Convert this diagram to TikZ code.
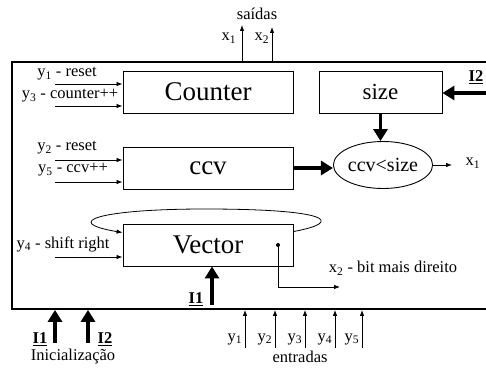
\documentclass[tikz,border=0pt]{standalone}
\usepackage{fontspec}
\setmainfont{Liberation Serif}
\usetikzlibrary{arrows.meta, positioning, shapes.geometric}
\newcommand{\initlbl}[1]{\underline{\textbf{#1}}}

\begin{document}
\begin{tikzpicture}[x=1pt, y=-1pt,
  arrow/.style={-{Latex[length=6pt, width=4.5pt]}, line width=0.8pt},
  bigarrow/.style={-{Triangle[length=12pt, width=14pt]}, line width=3.5pt},
  block/.style={rectangle, draw, line width=0.9pt, minimum height=42pt, inner sep=0pt, font=\fontsize{27}{30}\selectfont},
  frame/.style={rectangle, draw, line width=1.8pt, minimum width=488pt, minimum height=247pt},
  cmpnode/.style={ellipse, draw, line width=0.9pt, minimum width=88pt, minimum height=47pt, inner sep=0pt, font=\fontsize{20}{22}\selectfont},
  lbl/.style={inner sep=0pt, font=\fontsize{16.5}{18}\selectfont},
  dot/.style={circle, fill, inner sep=0pt, minimum size=4pt}
]
\useasboundingbox (0,0) rectangle (486,369);
\node[frame] (sys) at (256,185.5) {};
% blocks
\node[block, minimum width=170pt] (counter) at (208,92) {Counter};
\node[block, minimum width=123pt, font=\fontsize{23}{26}\selectfont] (sizebox) at (380.5,92) {size};
\node[block, minimum width=170pt] (ccv) at (208,168) {ccv};
\node[block, minimum width=170pt] (vector) at (208,245) {Vector};
\node[cmpnode] (cmp) at (383,165) {ccv<size};
\node[dot] (bit) at (278,245) {};
% outputs on top
\node[lbl] (saidas) at (257,14) {saídas};
\node[lbl] (ox1) at (229,38) {x\textsubscript{1}};
\node[lbl] (ox2) at (262,38) {x\textsubscript{2}};
\coordinate (o1) at (242,25);
\coordinate (o2) at (272,27);
\draw[arrow] (o1 |- sys.north) -- (o1);
\draw[arrow] (o2 |- sys.north) -- (o2);
% counter inputs
\node[lbl] (ly1) at (67,74) {y\textsubscript{1} - reset};
\node[lbl] (ly3) at (70,96) {y\textsubscript{3} - counter++};
\coordinate (c1) at (55,84);
\coordinate (c2) at (55,106);
\draw[arrow] (c1) -- (c1 -| counter.west);
\draw[arrow] (c2) -- (c2 -| counter.west);
% ccv inputs
\node[lbl] (ly2) at (67,148) {y\textsubscript{2} - reset};
\node[lbl] (ly5) at (73,170) {y\textsubscript{5} - ccv++};
\coordinate (v1) at (55,160);
\coordinate (v2) at (55,182);
\draw[arrow] (v1) -- (v1 -| ccv.west);
\draw[arrow] (v2) -- (v2 -| ccv.west);
% vector input and loop
\node[lbl] (ly4) at (63,244) {y\textsubscript{4} - shift right};
\coordinate (s1) at (55,257);
\draw[arrow] (s1) -- (s1 -| vector.west);
\draw[arrow] ([yshift=-8pt]vector.north east) .. controls (345,222) and (330,209) .. (205,209)
  .. controls (100,209) and (60,222) .. ([yshift=-9pt]vector.north west);
% comparison
\draw[bigarrow] (sizebox.south) -- (sizebox.south |- cmp.north);
\draw[bigarrow] (ccv.east) -- (ccv.east -| cmp.west);
\coordinate (x1out) at (452,165);
\draw[arrow] (cmp.east) -- (x1out);
\node[lbl] (lx1) at (473,163) {x\textsubscript{1}};
% I2 into size
\coordinate (i2in) at (490,93);
\draw[bigarrow] (i2in) -- (i2in -| sizebox.east);
\node[lbl] (li2) at (476,77) {\initlbl{I2}};
% rightmost bit
\coordinate (x2out) at (340,287);
\draw[arrow] (bit.center) |- (x2out);
\node[lbl] (lx2) at (393,268) {x\textsubscript{2} - bit mais direito};
% I1 into vector
\coordinate (i1v) at (212,305);
\draw[bigarrow] (i1v) -- (i1v |- vector.south);
\node[lbl] (li1v) at (196,299) {\initlbl{I1}};
% initialisation
\coordinate (b1) at (55,343);
\coordinate (b2) at (88,343);
\draw[bigarrow] (b1) -- (b1 |- sys.south);
\draw[bigarrow] (b2) -- (b2 |- sys.south);
\node[lbl] (lb1) at (40,339) {\initlbl{I1}};
\node[lbl] (lb2) at (105,339) {\initlbl{I2}};
\node[lbl] (init) at (73,357) {Inicialização};
% inputs at the bottom
\foreach \i/\x in {1/245,2/275,3/305,4/335,5/362} {
  \coordinate (e\i) at (\x,348);
  \draw[arrow] (e\i) -- (e\i |- sys.south);
  \node[lbl] (ley\i) at (\x-10,339) {y\textsubscript{\i}};
}
\node[lbl] (entradas) at (300,357) {entradas};
\end{tikzpicture}
\end{document}
